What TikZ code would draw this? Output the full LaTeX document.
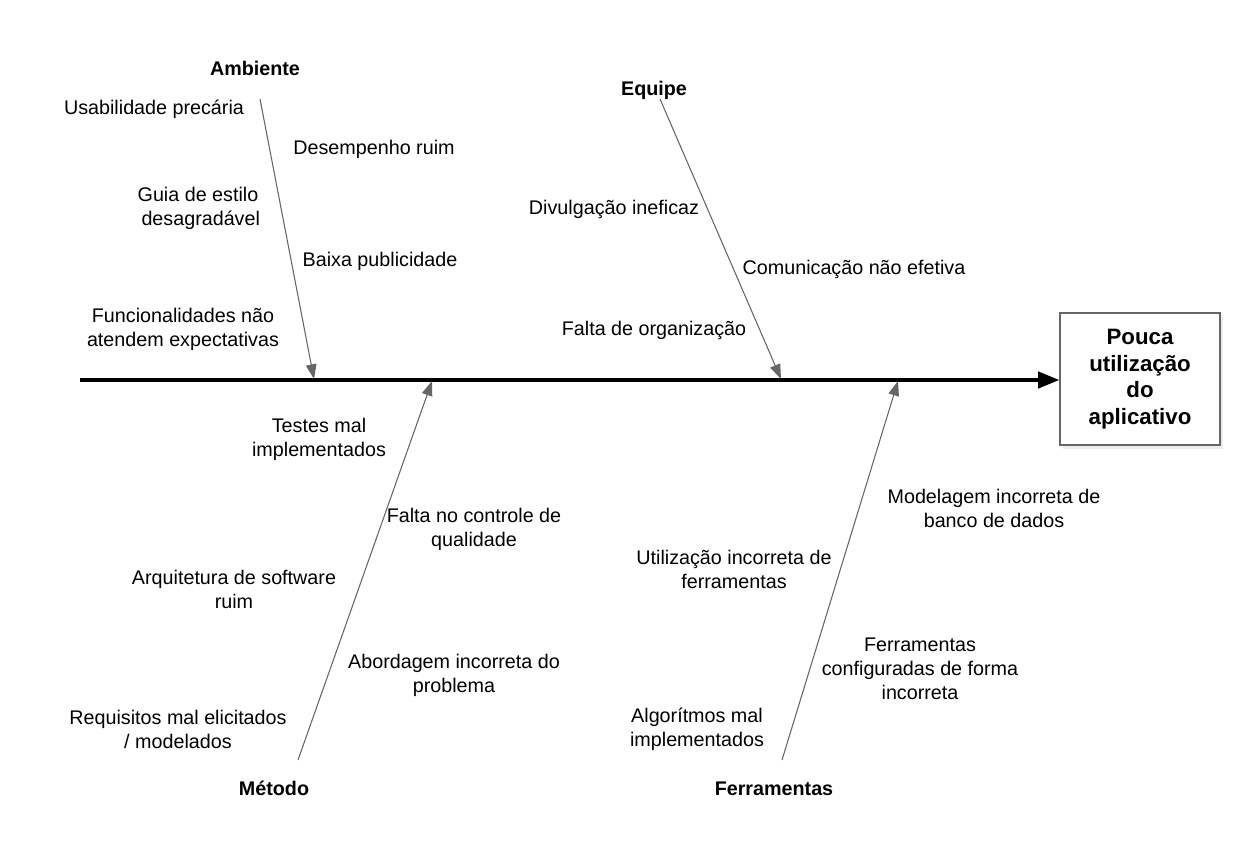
\documentclass[tikz,border=0pt]{standalone}
\usepackage{fontspec}
\setmainfont{Liberation Sans}
\usetikzlibrary{arrows.meta,shadows}
\tikzset{
  cause/.style={align=center, font=\fontsize{14.8pt}{18pt}\selectfont, inner sep=0pt},
  cat/.style={font=\fontsize{14.8pt}{18pt}\selectfont\bfseries, inner sep=0pt, anchor=base},
  bone/.style={draw=black!60, line width=0.8pt, -{Triangle[length=11pt,width=8pt]}, shorten >=0pt},
  spine/.style={draw=black, line width=3pt, -{Triangle[length=16pt,width=12pt]}},
  effect/.style={draw=black!60, line width=0.8pt, fill=white, align=center, minimum width=120pt, minimum height=99pt, font=\fontsize{16.7pt}{20pt}\selectfont\bfseries, drop shadow={opacity=0.15, shadow xshift=2pt, shadow yshift=-3pt}}
}
\begin{document}
\begin{tikzpicture}[x=0.75pt,y=-0.75pt]
\useasboundingbox (0,0) rectangle (1260,860);
% effect box
\node[effect] (eff) at (1140,379) {Pouca\\utilização\\do\\aplicativo};
\coordinate (tail) at (80,380);
\draw[spine] (tail) -- (eff.west |- 0,380);
% category labels
\node[cat] (amb) at (255,75) {Ambiente};
\node[cat] (equ) at (654,95) {Equipe};
\node[cat] (met) at (274,795) {Método};
\node[cat] (fer) at (774,795) {Ferramentas};
% bone endpoints
\coordinate (ambS) at (260,99);
\coordinate (ambE) at (314,379);
\coordinate (equS) at (660,99);
\coordinate (equE) at (781,379);
\coordinate (metS) at (298,760);
\coordinate (metE) at (432,381);
\coordinate (ferS) at (782,760);
\coordinate (ferE) at (898,381);
\draw[bone] (ambS) -- (ambE);
\draw[bone] (equS) -- (equE);
\draw[bone] (metS) -- (metE);
\draw[bone] (ferS) -- (ferE);
% causes
\node[cause] (c1) at (154,109) {Usabilidade precária};
\node[cause] (c2) at (374,149) {Desempenho ruim};
\node[cause] (c3) at (198,208) {Guia de estilo\\\ desagradável};
\node[cause] (c4) at (380,261) {Baixa publicidade};
\node[cause] (c5) at (183,329) {Funcionalidades não\\atendem expectativas};
\node[cause] (c6) at (614,209) {Divulgação ineficaz};
\node[cause] (c7) at (854,269) {Comunicação não efetiva};
\node[cause] (c8) at (654,330) {Falta de organização};
\node[cause] (c9) at (319,439) {Testes mal\\implementados};
\node[cause] (c10) at (474,529) {Falta no controle de\\qualidade};
\node[cause] (c11) at (234,589) {Arquitetura de software\\ruim};
\node[cause] (c12) at (454,675) {Abordagem incorreta do\\problema};
\node[cause] (c13) at (178,729) {Requisitos mal elicitados\\/ modelados};
\node[cause] (c14) at (994,508) {Modelagem incorreta de\\banco de dados};
\node[cause] (c15) at (734,569) {Utilização incorreta de\\ferramentas};
\node[cause] (c16) at (920,669) {Ferramentas\\configuradas de forma\\incorreta};
\node[cause] (c17) at (697,729) {Algorítmos mal\\implementados};
\end{tikzpicture}
\end{document}
